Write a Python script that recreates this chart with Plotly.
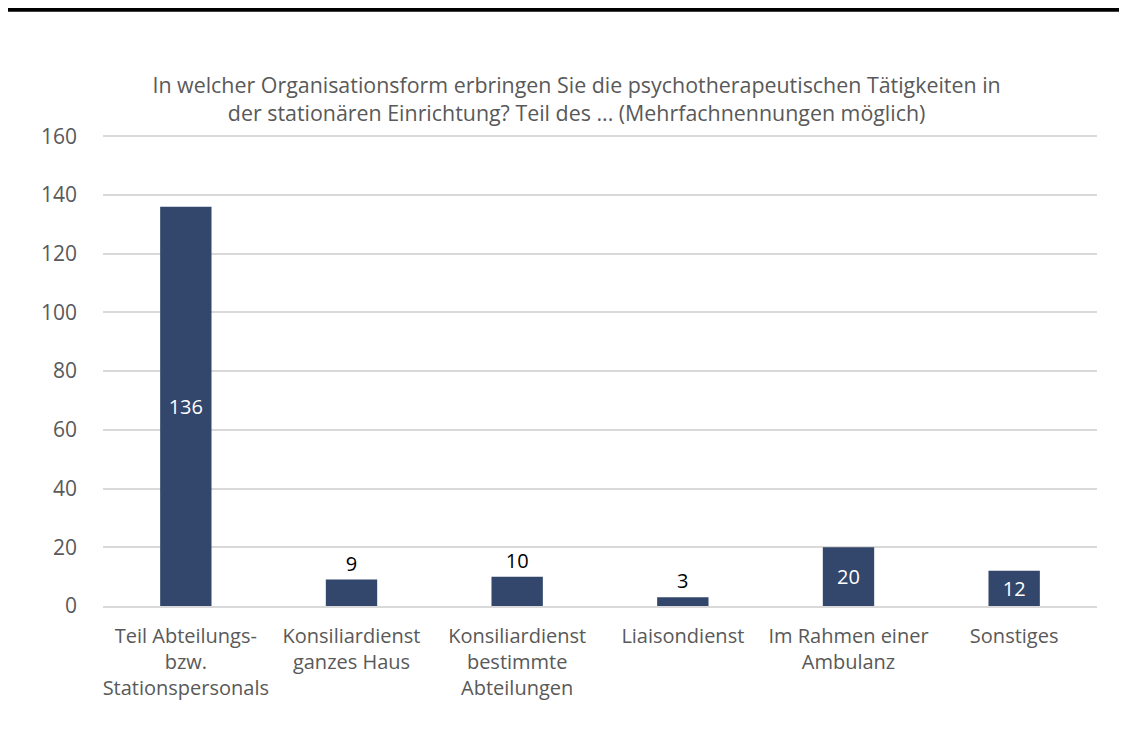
import plotly.graph_objects as go

categories = [
    "Teil Abteilungs-<br>bzw.<br>Stationspersonals",
    "Konsiliardienst<br>ganzes Haus",
    "Konsiliardienst<br>bestimmte<br>Abteilungen",
    "Liaisondienst",
    "Im Rahmen einer<br>Ambulanz",
    "Sonstiges",
]
values = [136, 9, 10, 3, 20, 12]
y_ticks = [0, 20, 40, 60, 80, 100, 120, 140, 160]

title_text = ("In welcher Organisationsform erbringen Sie die psychotherapeutischen Tätigkeiten in<br>"
              "der stationären Einrichtung? Teil des ... (Mehrfachnennungen möglich)")

FONT = "Open Sans, Noto Sans, sans-serif"
text_pos = ["inside", "outside", "outside", "outside", "inside", "inside"]
text_col = ["white", "black", "black", "black", "white", "white"]

fig = go.Figure(go.Bar(
    x=categories,
    y=values,
    width=0.31,
    marker=dict(color="#33466B", line=dict(width=0)),
    text=[str(v) for v in values],
    textposition=text_pos,
    insidetextanchor="middle",
    textfont=dict(family=FONT, size=20, color=text_col),
    constraintext="none",
    cliponaxis=False,
))

fig.update_layout(
    width=1127, height=738,
    paper_bgcolor="white", plot_bgcolor="white",
    margin=dict(l=95, r=38, t=127, b=140),
    showlegend=False,
    font=dict(family=FONT, size=20, color="#595959"),
    title=dict(text=title_text, x=0.5045, xanchor="center", y=0.8845, yanchor="middle",
               font=dict(family=FONT, size=21.4, color="#595959")),
    shapes=[dict(type="line", xref="paper", yref="paper", x0=-0.3, x1=1.3, y0=1.266, y1=1.266,
                 line=dict(color="black", width=4))],
)
fig.update_yaxes(range=[0, 160.4], tickvals=y_ticks, showgrid=True, gridcolor="#D9D9D9",
                 gridwidth=1.5, zeroline=False, showline=False, ticks="",
                 ticklabelstandoff=25, tickfont=dict(size=21, color="#595959"))
fig.update_xaxes(showline=True, linecolor="#D9D9D9", linewidth=1.5, ticks="",
                 tickfont=dict(size=20, color="#595959"), ticklabelstandoff=11)

fig.write_html("out.html")
